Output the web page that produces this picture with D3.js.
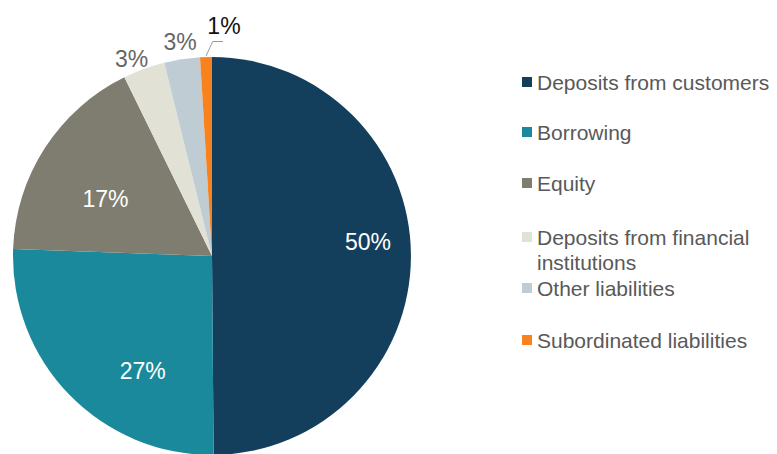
<!DOCTYPE html>
<html><head><meta charset="utf-8">
<script src="https://cdn.jsdelivr.net/npm/d3@7"></script>
<style>body{margin:0;background:#fff;} svg{display:block;font-family:"Liberation Sans",Arial,sans-serif;}</style>
</head><body>
<svg id="c" width="777" height="454"></svg>
<script>
const categories = ["Deposits from customers","Borrowing","Equity","Deposits from financial institutions","Other liabilities","Subordinated liabilities"];
const values = [49.9, 25.7, 17.2, 3.4, 2.9, 0.96];
const pctLabels = ["50%","27%","17%","3%","3%","1%"];
const colors = ["#143F5C","#1A899B","#7F7D70","#E2E1D6","#BFCCD4","#F7821E"];
const legendLines = [["Deposits from customers"],["Borrowing"],["Equity"],["Deposits from financial","institutions"],["Other liabilities"],["Subordinated liabilities"]];

// layout
const cx = 212, cy = 256, R = 199;
// label placement: [angle offset (deg), radius] relative to slice mid-angle
const labelLayout = [[-4.85,156.6],[-14.7,134.4],[-4.6,121],[-2.2,213],[0.2,217],[4.7,231]];

const svg = d3.select("#c");
const g = svg.append("g").attr("transform",`translate(${cx},${cy})`);
const pie = d3.pie().sort(null).value(d=>d)(values);
const arc = d3.arc().innerRadius(0).outerRadius(R);
g.selectAll("path.s").data(pie).join("path").attr("class","s")
  .attr("d",arc).attr("fill",(d,i)=>colors[i]);

pie.forEach((d,i)=>{
  const mid = (d.startAngle+d.endAngle)/2 + labelLayout[i][0]*Math.PI/180;
  const r = labelLayout[i][1];
  const x = Math.sin(mid)*r, y = -Math.cos(mid)*r;
  const inside = i<3;
  g.append("text").attr("x",x).attr("y",y).attr("dy","0.36em")
    .attr("text-anchor","middle").attr("font-size",23)
    .attr("fill", inside ? "#fff" : (i===5 ? "#111" : "#666"))
    .text(pctLabels[i]);
});
// leader line for smallest slice
const s = pie[5];
const m = (s.startAngle+s.endAngle)/2;
const p0 = [Math.sin(m)*(R+1), -Math.cos(m)*(R+1)];
g.append("polyline").attr("fill","none").attr("stroke","#999").attr("stroke-width",1)
  .attr("points",`${p0[0]},${p0[1]} ${0.7},${-214.5} ${11},${-214.5}`);

// legend
const lg = svg.append("g");
const rowY = [82,132,183,237,288,340];
legendLines.forEach((lines,i)=>{
  lg.append("rect").attr("x",522).attr("y",rowY[i]-5).attr("width",10).attr("height",10).attr("fill",colors[i]);
  lines.forEach((t,j)=>{
    lg.append("text").attr("x",537).attr("y",rowY[i]+j*25).attr("dy","0.36em")
      .attr("font-size",21).attr("fill","#595959").text(t);
  });
});
</script>
</body></html>
